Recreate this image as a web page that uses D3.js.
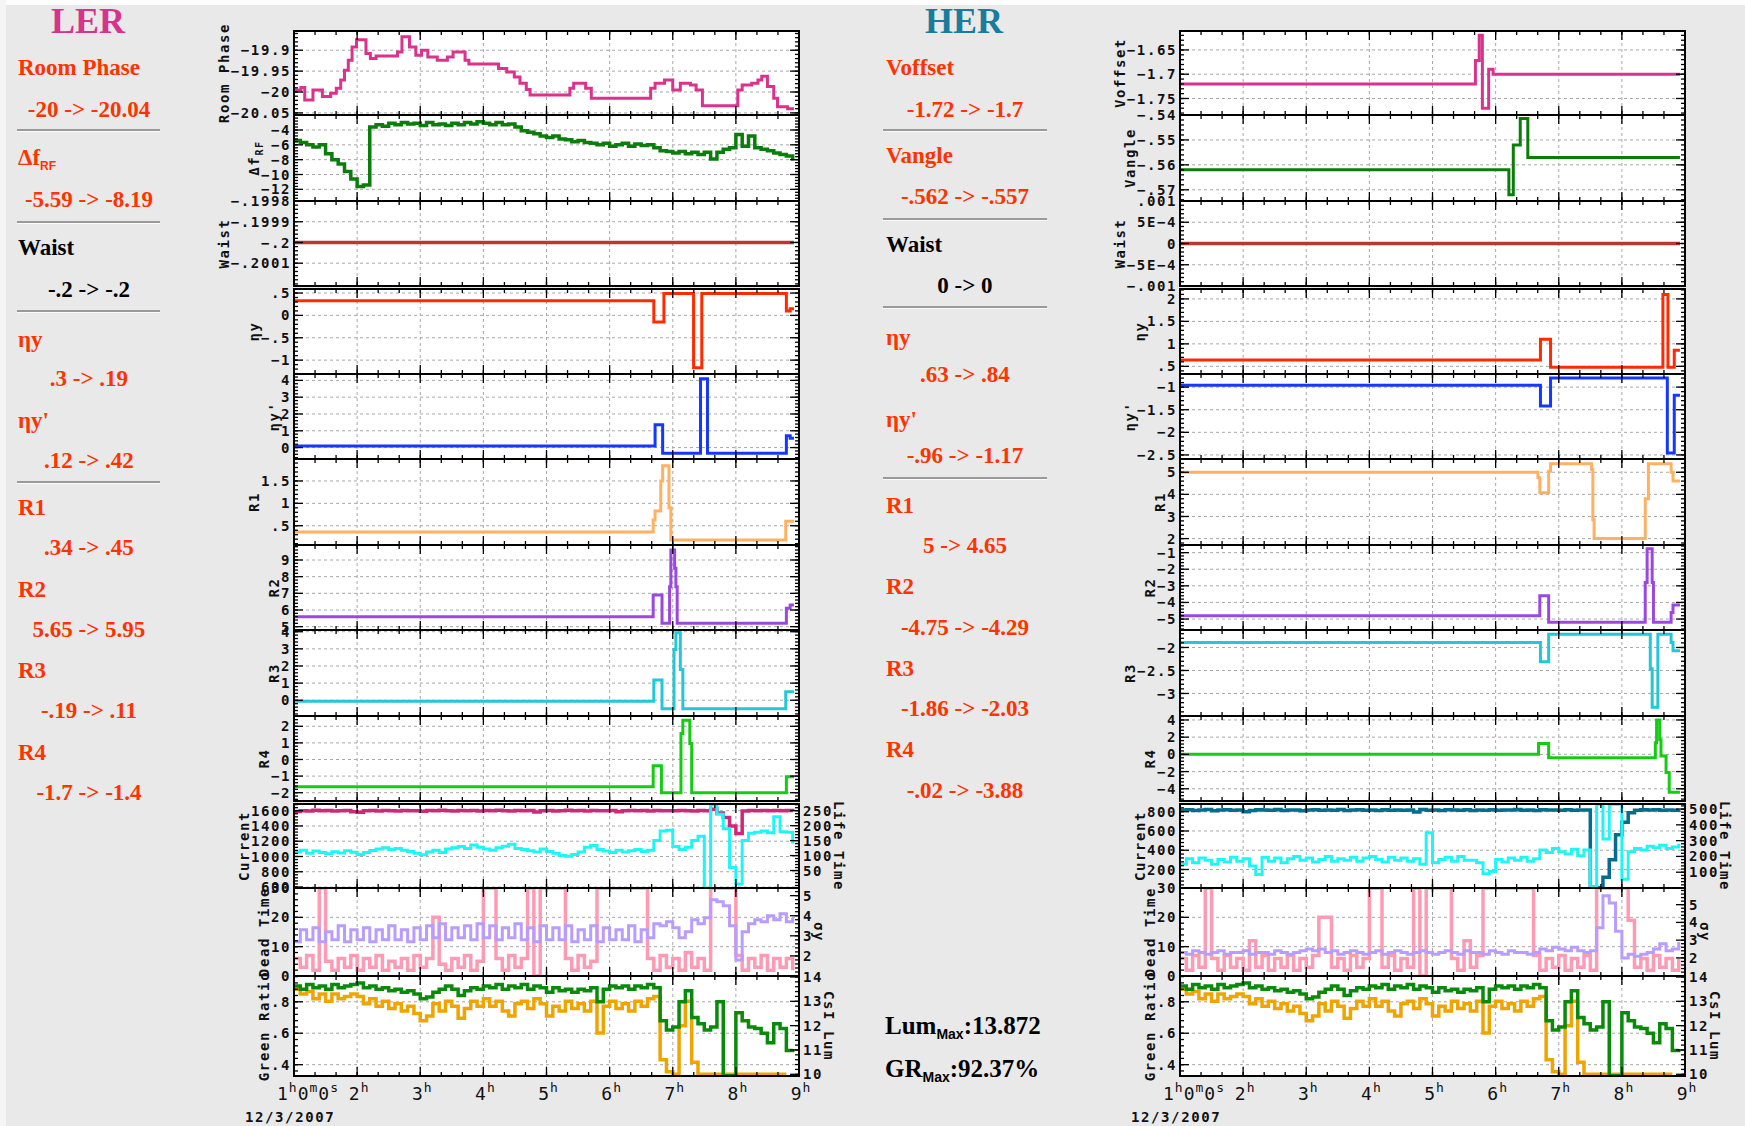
<!DOCTYPE html>
<html>
<head>
<meta charset="utf-8">
<script src="https://cdn.jsdelivr.net/npm/d3@7"></script>
<style>
  body { margin: 0; background: #eaeaea; }
  svg { display: block; }
  .tk { font-family: "DejaVu Sans Mono", monospace; font-size: 14px; font-weight: bold; letter-spacing: 1.6px; fill: #111; }
  .col { font-family: "Liberation Serif", "Times New Roman", serif; font-weight: bold; }
</style>
</head>
<body>
<script>
// sampling times (hours) of the logged signals
const hours = [
  1.0,1.1,1.2,1.3,1.4,1.5,1.6,1.7,1.8,1.9,
  2.0,2.1,2.2,2.3,2.4,2.5,2.6,2.7,2.8,2.9,
  3.0,3.1,3.2,3.3,3.4,3.5,3.6,3.7,3.8,3.9,
  4.0,4.1,4.2,4.3,4.4,4.5,4.6,4.7,4.8,4.9,
  5.0,5.1,5.2,5.3,5.4,5.5,5.6,5.7,5.8,5.9,
  6.0,6.1,6.2,6.3,6.4,6.5,6.6,6.7,6.8,6.9,
  7.0,7.1,7.2,7.3,7.4,7.5,7.6,7.7,7.8,7.9,
  8.0,8.1,8.2,8.3,8.4,8.5,8.6,8.7,8.8,8.9];
const hourTicks = [1, 2, 3, 4, 5, 6, 7, 8, 9];

// ---------- LER knobs (step data: [hour, value]) ----------
const lerRoomPhase = [[1.00,-19.995],[1.11,-19.989],[1.17,-20.019],[1.30,-19.995],[1.45,-20.011],[1.58,-20.003],
  [1.67,-19.991],[1.74,-19.971],[1.80,-19.948],[1.86,-19.924],[1.92,-19.892],[1.99,-19.875],[2.14,-19.908],
  [2.21,-19.920],[2.30,-19.914],[2.64,-19.904],[2.71,-19.868],[2.83,-19.892],[2.93,-19.912],[3.02,-19.900],
  [3.12,-19.916],[3.27,-19.924],[3.43,-19.916],[3.52,-19.904],[3.71,-19.924],[3.77,-19.933],[4.24,-19.944],
  [4.37,-19.952],[4.49,-19.964],[4.58,-19.979],[4.68,-19.994],[4.74,-20.007],[5.37,-19.991],[5.43,-19.979],
  [5.62,-19.991],[5.71,-20.015],[6.65,-19.991],[6.72,-19.979],[6.87,-19.971],[7.00,-19.995],[7.12,-19.979],
  [7.28,-19.983],[7.37,-19.995],[7.47,-20.033],[8.03,-19.995],[8.10,-19.983],[8.25,-19.979],[8.35,-19.971],
  [8.41,-19.962],[8.50,-19.987],[8.60,-20.015],[8.66,-20.035],[8.82,-20.040],[8.92,-20.040]];
const lerDeltaF = [
  -5.4,-5.7,-6.0,-6.3,-6.0,-7.2,-8.0,-8.6,-9.6,-10.6,
  -11.6,-11.4,-3.6,-3.3,-3.5,-3.1,-3.3,-3.0,-3.2,-3.1,
  -3.4,-3.0,-3.3,-3.2,-3.4,-3.1,-3.3,-3.0,-3.2,-2.9,
  -3.1,-3.3,-3.0,-3.3,-3.2,-3.6,-4.1,-4.3,-4.5,-4.8,
  -5.0,-4.8,-5.2,-5.3,-5.6,-5.4,-5.7,-5.8,-6.0,-5.8,
  -6.2,-6.0,-5.8,-6.2,-5.9,-6.1,-6.0,-6.4,-6.8,-6.9,
  -7.1,-6.9,-7.2,-7.0,-7.3,-7.0,-7.9,-7.0,-6.6,-6.4,
  -4.6,-6.2,-4.8,-6.4,-6.6,-6.8,-7.1,-7.3,-7.5,-8.1];
const lerWaist = [[1, -0.2], [8.92, -0.2]];
const lerEtaY = [[1,0.33],[6.70,-0.15],[6.86,0.49],[7.33,-1.17],[7.46,0.49],[8.80,0.10],[8.86,0.15],[8.92,0.15]];
const lerEtaYp = [[1,0.1],[6.72,1.36],[6.84,-0.34],[7.44,4.1],[7.55,-0.34],[8.80,0.7],[8.86,0.55],[8.92,0.55]];
const lerR1 = [[1,0.36],[6.69,0.63],[6.72,0.83],[6.81,1.5],[6.84,1.84],[6.94,0.9],[6.97,0.18],[8.79,0.6],[8.92,0.6]];
const lerR2 = [[1,5.6],[6.69,6.9],[6.83,5.2],[6.95,7.4],[6.97,9.6],[7.03,8.5],[7.05,7.4],[7.07,5.2],[8.80,6.1],[8.86,6.3],[8.92,6.3]];
const lerR3 = [[1,-0.06],[6.70,1.18],[6.83,-0.49],[7.02,2.96],[7.05,3.94],[7.12,1.8],[7.16,-0.49],[8.79,0.49],[8.92,0.49]];
const lerR4 = [[1,-1.64],[6.69,-0.38],[6.82,-2.0],[7.13,1.56],[7.16,2.36],[7.27,0.96],[7.30,-2.0],[8.80,-1.04],[8.92,-1.04]];
const lerCurrent = [
  1590,1600,1595,1605,1598,1602,1596,1600,1604,1585,
  1580,1598,1602,1596,1604,1600,1595,1603,1598,1601,
  1594,1602,1598,1605,1600,1596,1603,1599,1604,1597,
  1602,1598,1605,1600,1596,1603,1598,1602,1582,1600,
  1603,1597,1601,1605,1598,1602,1596,1604,1600,1598,
  1602,1585,1600,1604,1598,1602,1597,1603,1599,1601,
  1598,1604,1600,1597,1603,1600,1620,1570,1510,1400,
  1300,1595,1602,1600,1604,1598,1602,1600,1603,1600];
const lerLifeTime = [
  112,118,108,115,110,106,113,109,116,111,
  104,110,117,122,126,120,124,118,114,108,
  103,112,118,110,122,126,130,124,135,128,
  122,118,126,131,138,124,120,116,112,122,
  114,108,100,98,104,112,128,134,120,115,
  110,118,112,116,120,114,118,150,182,185,
  130,120,128,150,165,-8,270,238,190,60,
  5,150,175,178,182,176,230,180,178,140];
const lerDeadTime = [
  6,3,7,2,30,5,2,6,3,7,
  2,6,3,7,2,5,3,6,2,7,
  3,6,20,4,2,6,3,7,2,5,
  30,30,6,2,7,3,6,30,0,30,
  30,30,30,6,2,7,3,5,30,30,
  30,30,30,30,30,30,6,2,7,3,
  6,2,8,3,6,2,30,30,30,30,
  7,2,6,3,7,2,6,3,6,2];
const lerSigmaY = [
  2.7,3.3,2.8,3.4,2.7,3.2,2.8,3.5,2.7,3.3,
  2.8,3.4,2.7,3.3,2.8,3.5,2.8,3.3,2.7,3.4,
  2.8,3.5,2.9,3.6,2.8,3.4,2.9,3.5,2.8,3.6,
  2.9,3.5,2.8,3.4,2.9,3.6,2.8,3.4,2.7,3.5,
  2.8,3.4,2.8,3.5,2.7,3.3,2.8,3.5,2.7,3.4,
  2.8,3.3,2.8,3.5,2.7,3.3,2.9,3.6,3.5,3.7,
  3.4,2.9,3.2,3.8,3.6,3.9,4.8,4.7,4.5,3.5,
  1.8,3.2,3.6,3.8,3.7,4.0,3.8,4.1,3.7,3.9];

// ---------- luminosity monitor (shared by both rings) ----------
const greenRatio = [
  0.90,0.88,0.91,0.89,0.90,0.88,0.91,0.89,0.90,0.91,
  0.92,0.89,0.90,0.88,0.89,0.87,0.88,0.86,0.87,0.85,
  0.82,0.83,0.86,0.88,0.90,0.88,0.84,0.87,0.89,0.88,
  0.90,0.89,0.91,0.88,0.90,0.89,0.91,0.88,0.90,0.89,
  0.86,0.89,0.87,0.88,0.86,0.88,0.87,0.89,0.80,0.88,
  0.90,0.89,0.90,0.88,0.90,0.89,0.91,0.89,0.68,0.62,
  0.64,0.80,0.87,0.70,0.66,0.62,0.64,0.80,0.33,0.33,
  0.73,0.68,0.64,0.63,0.60,0.54,0.66,0.63,0.49,0.50];
const csiLum = [
  13.5,13.3,13.4,13.1,13.3,13.0,13.3,13.1,13.2,13.3,
  13.2,12.9,13.1,12.8,13.0,12.7,12.9,12.6,12.8,12.5,
  12.2,12.4,12.9,12.6,13.0,12.8,12.3,12.7,13.0,12.8,
  13.1,12.8,13.0,12.6,12.4,12.9,13.0,12.7,13.1,12.9,
  12.4,12.8,12.6,13.0,12.7,12.9,12.6,13.0,11.7,12.8,
  13.0,12.7,12.9,12.6,13.0,12.8,13.1,13.2,10.6,10.1,
  10.0,12.0,13.0,10.5,10.0,10.0,10.0,10.0,10.0,10.0,
  10.0,10.0,10.0,10.0,10.0,10.0,10.0,10.0,10.0,null];

// ---------- HER knobs ----------
const herVoffset = [[1,-1.72],[5.68,-1.672],[5.74,-1.62],[5.79,-1.77],[5.89,-1.69],[5.96,-1.70],[8.92,-1.70]];
const herVangle = [[1,-0.562],[6.21,-0.572],[6.28,-0.552],[6.39,-0.5414],[6.51,-0.557],[8.92,-0.557]];
const herWaist = [[1, 0], [8.92, 0]];
const herEtaY = [[1,0.64],[6.71,1.1],[6.87,0.48],[8.65,2.1],[8.73,0.48],[8.83,0.86],[8.92,0.86]];
const herEtaYp = [[1,-0.96],[6.71,-1.42],[6.87,-0.80],[8.72,-2.46],[8.83,-1.18],[8.92,-1.18]];
const herR1 = [[1,5.0],[6.67,4.75],[6.70,4.07],[6.84,5.05],[6.87,5.38],[7.52,5.12],[7.54,2.85],[7.56,2.0],
  [8.37,3.8],[8.42,5.38],[8.78,5.0],[8.81,4.6],[8.92,4.6]];
const herR2 = [[1,-4.8],[6.70,-3.6],[6.84,-5.2],[8.37,-2.8],[8.40,-0.76],[8.48,-2.8],[8.50,-5.2],[8.78,-4.6],[8.81,-4.16],[8.92,-4.16]];
const herR3 = [[1,-1.89],[6.71,-2.31],[6.84,-1.71],[8.45,-2.46],[8.48,-3.3],[8.57,-1.71],[8.78,-1.89],[8.81,-2.07],[8.92,-2.07]];
const herR4 = [[1,0],[6.68,1.27],[6.84,-0.38],[8.53,1.35],[8.55,4.0],[8.60,1.7],[8.62,-0.2],[8.70,-2.1],[8.75,-4.4],[8.92,-4.4]];
const herCurrent = [
  815,820,812,818,822,810,817,821,814,819,
  800,812,820,818,815,822,813,819,817,810,
  818,821,814,819,816,822,812,818,820,815,
  817,813,821,816,819,814,818,798,822,815,
  819,812,820,817,815,821,813,818,816,820,
  814,819,817,822,815,818,812,820,817,819,
  816,821,814,818,819,15,10,120,300,560,
  690,790,815,820,817,821,815,819,816,818];
const herLifeTime = [
  150,185,160,190,175,150,180,165,195,170,
  185,140,85,195,170,190,160,185,200,175,
  190,165,180,200,170,185,175,195,170,190,
  200,180,165,195,175,190,170,185,150,350,
  160,180,195,170,200,175,175,160,90,105,
  180,165,190,175,195,170,185,240,225,250,
  230,215,245,205,240,5,530,310,530,530,
  55,230,250,240,265,255,270,250,260,280];
const herDeadTime = [
  6,2,7,3,30,6,2,7,3,6,
  2,12,3,7,2,6,3,7,2,6,
  3,7,20,20,3,6,2,7,3,6,
  30,30,3,7,2,6,3,30,0,30,
  30,30,30,6,2,12,3,7,30,30,
  30,30,30,30,30,30,7,2,6,3,
  7,2,6,3,7,2,30,30,30,30,
  30,19,3,6,2,7,3,6,2,6];
const herSigmaY = [
  2.3,2.2,2.4,2.3,2.2,2.3,2.4,2.2,2.3,2.3,
  2.4,2.2,2.3,2.3,2.2,2.4,2.3,2.2,2.3,2.4,
  2.5,2.4,2.5,2.3,2.4,2.2,2.3,2.4,2.3,2.2,
  2.3,2.4,2.2,2.3,2.4,2.3,2.2,2.3,2.4,2.3,
  2.2,2.3,2.4,2.3,2.2,2.4,2.3,2.3,2.2,2.4,
  2.3,2.2,2.4,2.3,2.3,2.2,2.3,2.5,2.4,2.6,
  2.5,2.4,2.6,2.4,2.3,2.4,3.7,5.5,5.1,3.5,
  2.0,2.2,2.1,2.2,2.3,2.5,2.8,2.4,2.5,2.9];

// ---------- tick values ----------
const lerRoomPhaseTicks = [-20.05, -20, -19.95, -19.9];
const lerDeltaFTicks = [-12, -10, -8, -6, -4];
const lerWaistTicks = [-0.2001, -0.2, -0.1999, -0.1998];
const lerEtaYTicks = [-1, -0.5, 0, 0.5];
const lerEtaYpTicks = [0, 1, 2, 3, 4];
const lerR1Ticks = [0.5, 1, 1.5];
const lerR2Ticks = [5, 6, 7, 8, 9];
const lerR3Ticks = [0, 1, 2, 3, 4];
const lerR4Ticks = [-2, -1, 0, 1, 2];
const lerCurrentTicks = [600, 800, 1000, 1200, 1400, 1600];
const lerLifeTicks = [50, 100, 150, 200, 250];
const herVoffsetTicks = [-1.75, -1.7, -1.65];
const herVangleTicks = [-0.57, -0.56, -0.55, -0.54];
const herWaistTicks = [-0.001, -0.0005, 0, 0.0005, 0.001];
const herEtaYTicks = [0.5, 1, 1.5, 2];
const herEtaYpTicks = [-2.5, -2, -1.5, -1];
const herR1Ticks = [2, 3, 4, 5];
const herR2Ticks = [-5, -4, -3, -2, -1];
const herR3Ticks = [-3, -2.5, -2];
const herR4Ticks = [-4, -2, 0, 2, 4];
const herCurrentTicks = [200, 400, 600, 800];
const herLifeTicks = [100, 200, 300, 400, 500];
const deadTimeTicks = [0, 10, 20, 30];
const sigmaYTicks = [2, 3, 4, 5];
const greenTicks = [0.4, 0.6, 0.8];
const lumTicks = [10, 11, 12, 13, 14];

// ---------- side text ----------
const lerNames = ["Room Phase", "Δf|RF", "Waist", "ηy", "ηy'", "R1", "R2", "R3", "R4"];
const lerChanges = ["-20 -> -20.04", "-5.59 -> -8.19", "-.2 -> -.2", ".3 -> .19", ".12 -> .42",
  ".34 -> .45", "5.65 -> 5.95", "-.19 -> .11", "-1.7 -> -1.4"];
const herNames = ["Voffset", "Vangle", "Waist", "ηy", "ηy'", "R1", "R2", "R3", "R4"];
const herChanges = ["-1.72 -> -1.7", "-.562 -> -.557", "0 -> 0", ".63 -> .84", "-.96 -> -1.17",
  "5 -> 4.65", "-4.75 -> -4.29", "-1.86 -> -2.03", "-.02 -> -3.88"];
const lumMax = "13.872";
const grMax = "92.37%";
const dateLabel = "12/3/2007";

// ================= drawing =================
const W = 1745, H = 1126;
const svg = d3.select("body").append("svg").attr("width", W).attr("height", H);
svg.append("rect").attr("width", W).attr("height", H).attr("fill", "#e9e9e9");
svg.append("rect").attr("width", W).attr("height", 5).attr("fill", "#fdfdfd");
svg.append("rect").attr("width", 6).attr("height", H).attr("fill", "#f5f5f5");

const rows = [[31,115],[115,201],[201,286],[289,374],[374,459],[459,545],[545,630],[630,716],[716,801],[804,888],[888,976],[976,1076]];

function fmt(v) {
  if (v === 0) return "0";
  let s;
  if (Math.abs(v) < 0.001) s = v.toExponential().replace("e", "E").replace("+", "");
  else s = String(+v.toPrecision(6));
  s = s.replace(/^(-?)0\./, "$1.");
  return s.replace(/-/g, "\u2212");
}

function minorTicks(domain, step) {
  const lo = Math.min(...domain), hi = Math.max(...domain);
  const out = [];
  for (let k = Math.ceil(lo / step - 1e-6); k <= Math.floor(hi / step + 1e-6); k++) out.push(k * step);
  return out;
}

function addTitle(g, parts, x, y, rot) {
  const t = g.append("text").attr("class", "tk").attr("text-anchor", "middle")
    .attr("transform", `translate(${x},${y}) rotate(${rot})`);
  parts.split("|").forEach((p, i) => {
    const ts = t.append("tspan").text(p);
    if (i === 1) ts.attr("font-size", 10).attr("dy", 4);
  });
}

let clipId = 0;
function drawStack(left, right, panels) {
  const x = d3.scaleLinear().domain([1, 9]).range([left, right]);
  const g = svg.append("g");
  const xMinor = minorTicks([1, 9], 1 / 3);

  panels.forEach((p, i) => {
    const [top, bot] = rows[i];
    const y = d3.scaleLinear().domain(p.domain).range([bot, top]);
    const y2 = p.right ? d3.scaleLinear().domain(p.right.domain).range([bot, top]) : null;
    const pg = g.append("g");
    const id = "clip" + (clipId++);
    pg.append("clipPath").attr("id", id).append("rect")
      .attr("x", left).attr("y", top).attr("width", right - left).attr("height", bot - top);
    pg.append("rect").attr("x", left).attr("y", top).attr("width", right - left).attr("height", bot - top).attr("fill", "#fff");

    // dashed grid
    pg.selectAll(".gx").data(hourTicks.slice(1, -1)).join("line")
      .attr("x1", d => x(d)).attr("x2", d => x(d)).attr("y1", top).attr("y2", bot)
      .attr("stroke", "#a8a8a8").attr("stroke-dasharray", "3,3");
    pg.selectAll(".gy").data(p.ticks).join("line")
      .attr("x1", left).attr("x2", right).attr("y1", d => y(d)).attr("y2", d => y(d))
      .attr("stroke", "#a8a8a8").attr("stroke-dasharray", "3,3");

    // data (the logger holds each reading until the next one)
    p.series.forEach(s => {
      const ys = s.axis === "right" ? y2 : y;
      const pts = s.steps ? s.steps : hours.map((h, k) => [h, s.values[k]]);
      const line = d3.line().defined(d => d[1] != null)
        .x(d => x(d[0])).y(d => ys(d[1]))
        .curve(d3.curveStepAfter);
      pg.append("path").attr("clip-path", `url(#${id})`).attr("d", line(pts))
        .attr("fill", "none").attr("stroke", s.color).attr("stroke-width", s.width || 3)
        .attr("stroke-linejoin", "miter");
    });

    // ticks
    const tk = pg.append("g").attr("stroke", "#000").attr("stroke-width", 1.3);
    const leftMinor = minorTicks(p.domain, p.minor);
    const rScale = y2 || y, rTicks = p.right ? p.right.ticks : p.ticks;
    const rMinor = p.right ? minorTicks(p.right.domain, p.right.minor) : leftMinor;
    leftMinor.forEach(v => tk.append("line").attr("x1", left).attr("x2", left + 4).attr("y1", y(v)).attr("y2", y(v)));
    p.ticks.forEach(v => tk.append("line").attr("x1", left).attr("x2", left + 9).attr("y1", y(v)).attr("y2", y(v)));
    rMinor.forEach(v => tk.append("line").attr("x1", right).attr("x2", right - 4).attr("y1", rScale(v)).attr("y2", rScale(v)));
    rTicks.forEach(v => tk.append("line").attr("x1", right).attr("x2", right - 9).attr("y1", rScale(v)).attr("y2", rScale(v)));
    xMinor.forEach(h => {
      tk.append("line").attr("x1", x(h)).attr("x2", x(h)).attr("y1", top).attr("y2", top + 4);
      tk.append("line").attr("x1", x(h)).attr("x2", x(h)).attr("y1", bot).attr("y2", bot - 4);
    });
    hourTicks.forEach(h => {
      tk.append("line").attr("x1", x(h)).attr("x2", x(h)).attr("y1", top).attr("y2", top + 9);
      tk.append("line").attr("x1", x(h)).attr("x2", x(h)).attr("y1", bot).attr("y2", bot - 9);
    });

    pg.append("rect").attr("x", left).attr("y", top).attr("width", right - left).attr("height", bot - top)
      .attr("fill", "none").attr("stroke", "#000").attr("stroke-width", 2);

    // labels + titles
    const lg = pg.append("g");
    p.ticks.forEach(v => lg.append("text").attr("class", "tk").attr("text-anchor", "end")
      .attr("x", left - 3).attr("y", y(v)).attr("dy", "0.36em").text(fmt(v)));
    const lb = lg.node().getBBox();
    addTitle(pg, p.title, lb.x - 2, (top + bot) / 2, -90);
    if (p.right) {
      const rg = pg.append("g");
      p.right.ticks.forEach(v => rg.append("text").attr("class", "tk")
        .attr("x", right + 4).attr("y", y2(v)).attr("dy", "0.36em").text(fmt(v)));
      const rb = rg.node().getBBox();
      addTitle(pg, p.right.title, rb.x + rb.width + 1, (top + bot) / 2, 90);
    }
  });

  // time axis
  const yb = 1100;
  hourTicks.forEach(h => {
    const t = g.append("text").attr("font-family", "DejaVu Sans Mono, monospace").attr("letter-spacing", 1)
      .attr("fill", "#111").attr("y", yb).attr("x", h === 1 ? x(h) - 17 : x(h) + 2).attr("text-anchor", h === 1 ? "start" : "middle");
    const parts = h === 1 ? [["1", 0], ["h", -8], ["0", 8], ["m", -8], ["0", 8], ["s", -8]] : [[String(h), 0], ["h", -8]];
    parts.forEach(([s, dy], k) => t.append("tspan").attr("dy", dy)
      .attr("font-size", k % 2 ? 13 : 18).text(s));
  });
  g.append("text").attr("class", "tk").attr("font-weight", "normal").attr("x", left - 49).attr("y", 1122).text(dateLabel);
}

const C = {
  pink: "#d9338e", green: "#0a7d0a", waist: "#b83838", red: "#ff2a00", blue: "#1438ff",
  orange: "#ffb060", purple: "#9a48e0", cyan: "#22c8d8", lime: "#14cc14",
  life: "#1ef5f5", curL: "#d02878", curH: "#046c8c", dead: "#ff9ab4", sig: "#b89cff",
  gr: "#0a8a0a", lum: "#f0a400"
};

const lerPanels = [
  { title: "Room Phase", domain: [-20.055, -19.854], ticks: lerRoomPhaseTicks, minor: 0.01,
    series: [{ steps: lerRoomPhase, color: C.pink }] },
  { title: "Δf|RF", domain: [-13.57, -1.98], ticks: lerDeltaFTicks, minor: 0.4,
    series: [{ values: lerDeltaF, color: C.green, width: 3.5 }] },
  { title: "Waist", domain: [-0.20021, -0.1998], ticks: lerWaistTicks, minor: 0.00002,
    series: [{ steps: lerWaist, color: C.waist, width: 3.5 }] },
  { title: "ηy", domain: [-1.31, 0.59], ticks: lerEtaYTicks, minor: 0.1, series: [{ steps: lerEtaY, color: C.red }] },
  { title: "ηy'", domain: [-0.68, 4.38], ticks: lerEtaYpTicks, minor: 0.2, series: [{ steps: lerEtaYp, color: C.blue }] },
  { title: "R1", domain: [0.07, 1.99], ticks: lerR1Ticks, minor: 0.1, series: [{ steps: lerR1, color: C.orange }] },
  { title: "R2", domain: [4.8, 9.9], ticks: lerR2Ticks, minor: 0.2, series: [{ steps: lerR2, color: C.purple }] },
  { title: "R3", domain: [-0.92, 4.1], ticks: lerR3Ticks, minor: 0.2, series: [{ steps: lerR3, color: C.cyan }] },
  { title: "R4", domain: [-2.5, 2.62], ticks: lerR4Ticks, minor: 0.2, series: [{ steps: lerR4, color: C.lime }] },
  { title: "Current", domain: [587, 1688], ticks: lerCurrentTicks, minor: 40,
    right: { title: "Life Time", domain: [-8.4, 272.4], ticks: lerLifeTicks, minor: 10 },
    series: [{ values: lerCurrent, color: C.curL, width: 3.5 }, { values: lerLifeTime, color: C.life, axis: "right", width: 3 }] },
  { title: "Dead Time", domain: [0, 30], ticks: deadTimeTicks, minor: 2,
    right: { title: "σy", domain: [1.0, 5.38], ticks: sigmaYTicks, minor: 0.2 },
    series: [{ values: lerDeadTime, color: C.dead, width: 3.5 }, { values: lerSigmaY, color: C.sig, axis: "right", width: 3 }] },
  { title: "Green Ratio", domain: [0.328, 0.964], ticks: greenTicks, minor: 0.04,
    right: { title: "CsI Lum", domain: [9.93, 14.04], ticks: lumTicks, minor: 0.2 },
    series: [{ values: csiLum, color: C.lum, axis: "right", width: 3.5 }, { values: greenRatio, color: C.gr, width: 3.5 }] }
];

const herPanels = [
  { title: "Voffset", domain: [-1.784, -1.611], ticks: herVoffsetTicks, minor: 0.01, series: [{ steps: herVoffset, color: C.pink }] },
  { title: "Vangle", domain: [-0.5745, -0.54], ticks: herVangleTicks, minor: 0.002, series: [{ steps: herVangle, color: C.green }] },
  { title: "Waist", domain: [-0.001, 0.001], ticks: herWaistTicks, minor: 0.0001, series: [{ steps: herWaist, color: C.waist, width: 3.5 }] },
  { title: "ηy", domain: [0.33, 2.22], ticks: herEtaYTicks, minor: 0.1, series: [{ steps: herEtaY, color: C.red }] },
  { title: "ηy'", domain: [-2.59, -0.71], ticks: herEtaYpTicks, minor: 0.1, series: [{ steps: herEtaYp, color: C.blue }] },
  { title: "R1", domain: [1.71, 5.6], ticks: herR1Ticks, minor: 0.2, series: [{ steps: herR1, color: C.orange }] },
  { title: "R2", domain: [-5.66, -0.54], ticks: herR2Ticks, minor: 0.2, series: [{ steps: herR2, color: C.purple }] },
  { title: "R3", domain: [-3.49, -1.62], ticks: herR3Ticks, minor: 0.1, series: [{ steps: herR3, color: C.cyan }] },
  { title: "R4", domain: [-5.42, 4.46], ticks: herR4Ticks, minor: 0.4, series: [{ steps: herR4, color: C.lime }] },
  { title: "Current", domain: [8, 880], ticks: herCurrentTicks, minor: 40,
    right: { title: "Life Time", domain: [0, 532], ticks: herLifeTicks, minor: 20 },
    series: [{ values: herCurrent, color: C.curH, width: 3.5 }, { values: herLifeTime, color: C.life, axis: "right", width: 3 }] },
  { title: "Dead Time", domain: [0, 30], ticks: deadTimeTicks, minor: 2,
    right: { title: "σy", domain: [0.98, 5.94], ticks: sigmaYTicks, minor: 0.2 },
    series: [{ values: herDeadTime, color: C.dead, width: 3.5 }, { values: herSigmaY, color: C.sig, axis: "right", width: 3 }] },
  { title: "Green Ratio", domain: [0.328, 0.964], ticks: greenTicks, minor: 0.04,
    right: { title: "CsI Lum", domain: [9.93, 14.04], ticks: lumTicks, minor: 0.2 },
    series: [{ values: csiLum, color: C.lum, axis: "right", width: 3.5 }, { values: greenRatio, color: C.gr, width: 3.5 }] }
];

drawStack(294, 799, lerPanels);
drawStack(1180, 1685, herPanels);

// ---------- text columns ----------
function textColumn(cx, nameX, head, headColor, names, changes, nameY, valY, rules, ruleX) {
  svg.append("text").attr("class", "col").attr("x", cx).attr("y", 33).attr("text-anchor", "middle")
    .attr("font-size", 36).attr("fill", headColor).text(head);
  names.forEach((n, i) => {
    const col = n === "Waist" ? "#000" : "#ff3300";
    const t = svg.append("text").attr("class", "col").attr("x", nameX).attr("y", nameY[i])
      .attr("font-size", 23).attr("fill", col);
    if (n.startsWith("η")) t.attr("font-weight", "normal");
    n.split("|").forEach((p, k) => {
      const ts = t.append("tspan").text(p);
      if (k === 1) ts.attr("font-family", "Liberation Sans, Arial, sans-serif").attr("font-size", 12).attr("dy", 5);
    });
    svg.append("text").attr("class", "col").attr("x", cx + 1).attr("y", valY[i]).attr("text-anchor", "middle")
      .attr("font-size", 23).attr("fill", col).text(changes[i]);
  });
  rules.forEach(ry => {
    svg.append("line").attr("x1", ruleX[0]).attr("x2", ruleX[1]).attr("y1", ry).attr("y2", ry)
      .attr("stroke", "#9a9a9a").attr("stroke-width", 2);
    svg.append("line").attr("x1", ruleX[0]).attr("x2", ruleX[1]).attr("y1", ry + 1.5).attr("y2", ry + 1.5)
      .attr("stroke", "#fafafa").attr("stroke-width", 1);
  });
}

textColumn(88, 18, "LER", "#d6338c", lerNames, lerChanges,
  [75, 165, 255, 347, 428, 515, 597, 678, 760], [117, 207, 297, 386, 468, 555, 637, 718, 800],
  [130, 222, 311, 482], [17, 160]);
textColumn(964, 886, "HER", "#1a7c9c", herNames, herChanges,
  [75, 163, 252, 345, 427, 513, 594, 676, 757], [117, 204, 293, 382, 463, 553, 635, 716, 798],
  [130, 219, 307, 478], [883, 1047]);

[["Lum", ":" + lumMax, 1034], ["GR", ":" + grMax, 1077]].forEach(([a, b, yy]) => {
  const t = svg.append("text").attr("class", "col").attr("x", 885).attr("y", yy).attr("font-size", 25).attr("fill", "#000");
  t.append("tspan").text(a);
  t.append("tspan").attr("font-family", "Liberation Sans, Arial, sans-serif").attr("font-size", 14).attr("dy", 5).text("Max");
  t.append("tspan").attr("dy", -5).text(b);
});
</script>
</body>
</html>
